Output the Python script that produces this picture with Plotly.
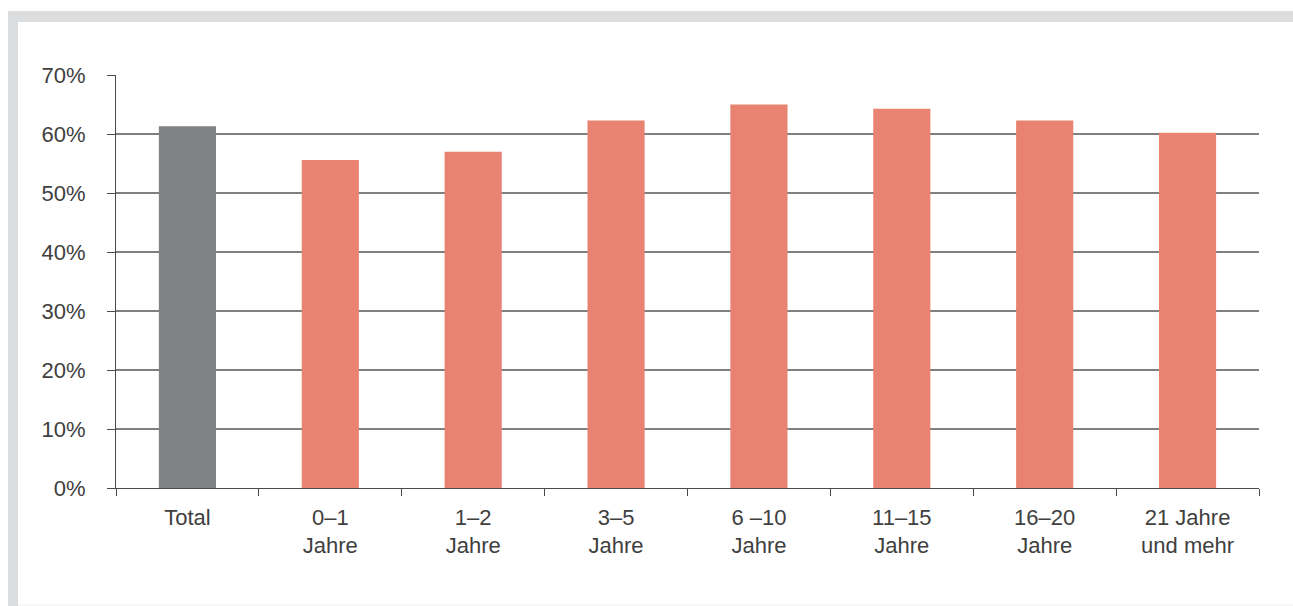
import plotly.graph_objects as go

categories = ["Total", "0–1<br>Jahre", "1–2<br>Jahre", "3–5<br>Jahre", "6 –10<br>Jahre",
              "11–15<br>Jahre", "16–20<br>Jahre", "21 Jahre<br>und mehr"]
values = [61.3, 55.6, 57.0, 62.3, 65.0, 64.3, 62.3, 60.2]
bar_colors = ["#818285"] + ["#E88372"] * 7
y_ticks = [0, 10, 20, 30, 40, 50, 60, 70]

W, H = 1293, 606
L, R, T, B = 116, 34, 75, 118
pw, ph = W - L - R, H - T - B

def px_x(x):
    return (x - L) / pw

def px_y(y):
    return (H - B - y) / ph

fig = go.Figure(go.Bar(
    x=categories, y=values, marker=dict(color=bar_colors, line=dict(width=0)),
    width=0.4, hoverinfo="skip"))

font = dict(family="Liberation Sans, Arial, sans-serif", size=22, color="#404040")

frame = "#dcdddf"
shapes = [
    dict(type="rect", xref="paper", yref="paper", x0=px_x(8), x1=px_x(W), y0=px_y(22), y1=px_y(11),
         fillcolor=frame, line=dict(width=0), layer="above"),
    dict(type="rect", xref="paper", yref="paper", x0=px_x(8), x1=px_x(18), y0=px_y(606), y1=px_y(11),
         fillcolor=frame, line=dict(width=0), layer="above"),
    dict(type="line", xref="paper", yref="paper", x0=px_x(18), x1=px_x(W), y0=px_y(605), y1=px_y(605),
         line=dict(color="#f0f0f0", width=1), layer="above"),
]

fig.update_layout(
    width=W, height=H,
    margin=dict(l=L, r=R, t=T, b=B, pad=0),
    paper_bgcolor="white", plot_bgcolor="white",
    font=font, showlegend=False, bargap=0.6,
    shapes=shapes,
    xaxis=dict(type="category", tickson="boundaries", ticks="outside", ticklen=7,
               tickcolor="#4a4a4a", tickwidth=1, showline=True, linecolor="#4a4a4a",
               linewidth=1.2, showgrid=False, tickfont=font, ticklabelstandoff=9),
    yaxis=dict(range=[0, 70], tickvals=y_ticks, ticktext=[f"{v}%" for v in y_ticks],
               ticks="outside", ticklen=8, tickcolor="#4a4a4a", tickwidth=1,
               showline=True, linecolor="#4a4a4a", linewidth=1.2,
               showgrid=True, gridcolor="#7f7f7f", gridwidth=1.5, zeroline=False,
               tickfont=font, ticklabelstandoff=17),
)

fig.write_html("out.html")
